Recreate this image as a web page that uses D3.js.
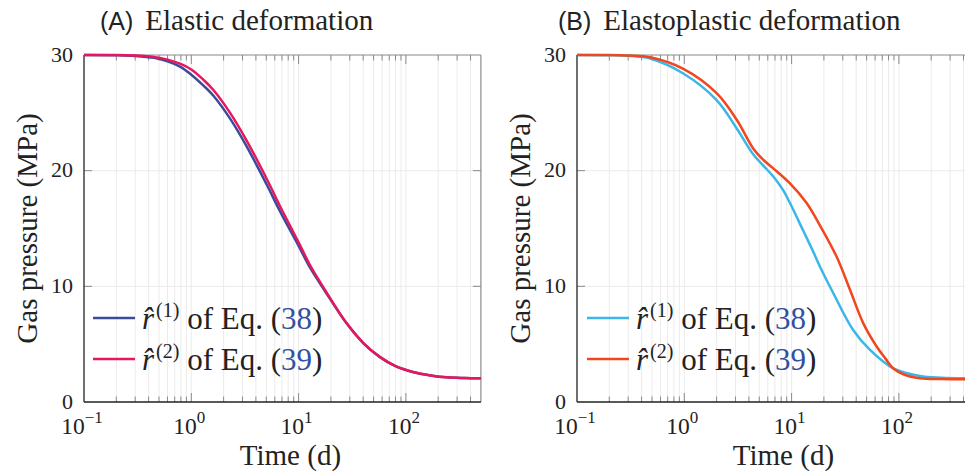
<!DOCTYPE html>
<html>
<head>
<meta charset="utf-8">
<script src="https://cdn.jsdelivr.net/npm/d3@7"></script>
<style>
  html, body { margin: 0; padding: 0; background: #fff; }
  svg { display: block; }
  .serif { font-family: "Liberation Serif", "Times New Roman", Times, Tinos, "DejaVu Serif", serif; }
  .sans { font-family: "Liberation Sans", Arial, Helvetica, sans-serif; }
</style>
</head>
<body>
<svg id="chart" width="965" height="475"></svg>
<script>
// ---------------- DATA ----------------
const panelTitles = ["Elastic deformation", "Elastoplastic deformation"];
const panelLetters = ["(A)", "(B)"];
const seriesNames = ["of Eq. (", "of Eq. ("];
const eqNumbers = ["38", "39"];
const yTickValues = [0, 10, 20, 30];
const xTickExponents = [-1, 0, 1, 2];
const xDomain = [0.1, 500];
const yDomain = [0, 30];

// (A) Elastic deformation
const timeA     = [0.1, 0.2, 0.3, 0.45, 0.6, 0.785, 1.0, 1.3, 1.6, 2.3, 3.28, 5.04, 6.7, 10, 13, 17.6, 28, 40, 57, 80, 116, 170, 240, 350, 500];
const elasticR1 = [30, 29.98, 29.92, 29.75, 29.45, 29.0, 28.3, 27.35, 26.5, 24.5, 22.1, 18.8, 16.5, 13.5, 11.5, 9.6, 6.8, 5.1, 3.9, 3.1, 2.6, 2.3, 2.13, 2.07, 2.05];
const elasticR2 = [30, 30, 29.95, 29.82, 29.6, 29.25, 28.75, 27.85, 27.0, 25.0, 22.6, 19.3, 16.95, 13.8, 11.7, 9.7, 6.82, 5.12, 3.9, 3.1, 2.6, 2.3, 2.13, 2.07, 2.05];

// (B) Elastoplastic deformation
const timeB1    = [0.1, 0.2, 0.3, 0.48, 0.98, 2.0, 3.08, 4.4, 5.5, 6.75, 8.37, 9.66, 12.85, 15.9, 18.4, 24.5, 37.6, 53.8, 88.8, 157, 250, 413, 500];
const plasticR1 = [30, 29.98, 29.93, 29.7, 28.4, 26.1, 23.65, 21.4, 20.4, 19.5, 18.3, 17.2, 14.8, 13.0, 11.7, 9.4, 6.2, 4.5, 2.9, 2.25, 2.1, 2.05, 2.05];
const timeB2    = [0.1, 0.2, 0.3, 0.48, 0.98, 2.0, 3.08, 4.4, 5.5, 6.75, 9.66, 13.8, 18.4, 26.3, 35, 46.6, 62, 75, 88.8, 110, 157, 250, 500];
const plasticR2 = [30, 30, 29.95, 29.8, 28.8, 26.7, 24.4, 21.9, 20.9, 20.2, 18.9, 17.2, 15.25, 12.55, 9.7, 6.8, 4.8, 3.75, 2.9, 2.4, 2.05, 1.98, 1.96];

const colorsA = ["#3a4b9c", "#e8175d"];
const colorsB = ["#3ab7e8", "#f0471e"];
const eqColor = "#3450a0";

// ---------------- LAYOUT ----------------
const svg = d3.select("#chart");
const plotTop = 55, plotBottom = 402;
const decade = 107.3;
const plotW = decade * Math.log10(xDomain[1] / xDomain[0]);

const panels = [
  { x0: 84, title: panelTitles[0], letter: panelLetters[0], times: [timeA, timeA], vals: [elasticR1, elasticR2], colors: colorsA, titleX: 100, ylabX: 27, legX: 93 },
  { x0: 577, title: panelTitles[1], letter: panelLetters[1], times: [timeB1, timeB2], vals: [plasticR1, plasticR2], colors: colorsB, titleX: 558, ylabX: 520, legX: 587 }
];

const defs = svg.append("defs");

panels.forEach((p, pi) => {
  const x = d3.scaleLog().domain(xDomain).range([p.x0, p.x0 + plotW]);
  const y = d3.scaleLinear().domain(yDomain).range([plotBottom, plotTop]);
  const g = svg.append("g");

  const minor = [];
  const major = [];
  xTickExponents.forEach(e => {
    const base = Math.pow(10, e);
    major.push(base);
    for (let k = 2; k <= 9; k++) {
      const v = k * base;
      if (v < xDomain[1]) minor.push(v);
    }
  });

  // vertical grid
  g.append("g").selectAll("line").data(minor.concat(major.slice(1)))
    .join("line")
    .attr("x1", d => x(d)).attr("x2", d => x(d))
    .attr("y1", plotTop).attr("y2", plotBottom)
    .attr("stroke", "#ebebeb").attr("stroke-width", 1);
  // horizontal grid
  g.append("g").selectAll("line").data([10, 20])
    .join("line")
    .attr("x1", x(xDomain[0])).attr("x2", x(xDomain[1]))
    .attr("y1", d => y(d)).attr("y2", d => y(d))
    .attr("stroke", "#ebebeb").attr("stroke-width", 1);

  // ticks (inward) top & bottom
  const tickData = minor.map(v => ({ v, len: 5.5 })).concat(major.slice(1).map(v => ({ v, len: 9 })));
  g.append("g").selectAll("line").data(tickData).join("line")
    .attr("x1", d => x(d.v)).attr("x2", d => x(d.v))
    .attr("y1", plotTop).attr("y2", d => plotTop + d.len)
    .attr("stroke", "#8a8a8a").attr("stroke-width", 1);
  g.append("g").selectAll("line").data(tickData).join("line")
    .attr("x1", d => x(d.v)).attr("x2", d => x(d.v))
    .attr("y1", plotBottom).attr("y2", d => plotBottom - d.len)
    .attr("stroke", "#8a8a8a").attr("stroke-width", 1);
  // y ticks left & right
  g.append("g").selectAll("line").data([10, 20]).join("line")
    .attr("x1", x(xDomain[0])).attr("x2", x(xDomain[0]) + 8)
    .attr("y1", d => y(d)).attr("y2", d => y(d))
    .attr("stroke", "#8a8a8a");
  g.append("g").selectAll("line").data([10, 20]).join("line")
    .attr("x1", x(xDomain[1])).attr("x2", x(xDomain[1]) - 8)
    .attr("y1", d => y(d)).attr("y2", d => y(d))
    .attr("stroke", "#8a8a8a");

  // frame
  g.append("line").attr("x1", x(xDomain[0])).attr("x2", x(xDomain[1])).attr("y1", plotTop).attr("y2", plotTop).attr("stroke", "#8a8a8a").attr("stroke-width", 1.2);
  g.append("line").attr("x1", x(xDomain[1])).attr("x2", x(xDomain[1])).attr("y1", plotTop).attr("y2", plotBottom).attr("stroke", "#8a8a8a").attr("stroke-width", 1.2);
  g.append("line").attr("x1", x(xDomain[0])).attr("x2", x(xDomain[0])).attr("y1", plotTop).attr("y2", plotBottom).attr("stroke", "#222").attr("stroke-width", 1.3);
  g.append("line").attr("x1", x(xDomain[0])).attr("x2", x(xDomain[1])).attr("y1", plotBottom).attr("y2", plotBottom).attr("stroke", "#222").attr("stroke-width", 1.3);

  // clip
  const cid = "clip" + pi;
  defs.append("clipPath").attr("id", cid).append("rect")
    .attr("x", x(xDomain[0])).attr("y", plotTop - 2).attr("width", plotW).attr("height", plotBottom - plotTop + 4);

  // curves
  const line = d3.line().x(d => x(d[0])).y(d => y(d[1])).curve(d3.curveCatmullRom.alpha(0.5));
  p.vals.forEach((vals, si) => {
    const pts = p.times[si].map((t, i) => [t, vals[i]]);
    g.append("path").datum(pts)
      .attr("d", line)
      .attr("fill", "none")
      .attr("stroke", p.colors[si])
      .attr("stroke-width", 2.5)
      .attr("clip-path", `url(#${cid})`);
  });

  // y tick labels
  g.append("g").selectAll("text").data(yTickValues).join("text")
    .attr("class", "serif")
    .attr("x", x(xDomain[0]) - 11).attr("y", d => y(d) + 6.5)
    .attr("text-anchor", "end")
    .attr("font-size", 22).attr("fill", "#222")
    .text(d => d);

  // x tick labels
  const xt = g.append("g").selectAll("text").data(xTickExponents).join("text")
    .attr("class", "serif")
    .attr("x", d => x(Math.pow(10, d)) - 2).attr("y", 434)
    .attr("text-anchor", "middle")
    .attr("font-size", 23.5).attr("fill", "#222");
  xt.append("tspan").text("10");
  xt.append("tspan").attr("dy", -11).attr("font-size", 17).text(d => d < 0 ? "\u2212" + Math.abs(d) : String(d));

  // axis labels
  g.append("text")
    .attr("class", "serif")
    .attr("x", x(Math.sqrt(xDomain[0] * xDomain[1])) + 8).attr("y", 465)
    .attr("text-anchor", "middle")
    .attr("font-size", 29).attr("fill", "#222")
    .text("Time (d)");
  g.append("text")
    .attr("class", "serif")
    .attr("transform", `translate(${p.ylabX},${(plotTop + plotBottom) / 2}) rotate(-90)`)
    .attr("text-anchor", "middle").attr("dominant-baseline", "central")
    .attr("font-size", 29).attr("fill", "#222")
    .text("Gas pressure (MPa)");

  // title
  const tt = g.append("text").attr("x", p.titleX).attr("y", 30)
    .attr("font-size", 29).attr("fill", "#222");
  tt.append("tspan").attr("class", "sans").attr("font-size", 25).text(p.letter);
  tt.append("tspan").attr("class", "serif").attr("dx", 12).text(p.title);

  // legend
  const legY = [318, 359];
  p.colors.forEach((c, si) => {
    g.append("line")
      .attr("x1", p.legX).attr("x2", p.legX + 42)
      .attr("y1", legY[si]).attr("y2", legY[si])
      .attr("stroke", c).attr("stroke-width", 2.5);
    const t = g.append("text").attr("class", "serif").attr("x", p.legX + 49).attr("y", legY[si] + 10.5)
      .attr("font-size", 31).attr("fill", "#222");
    t.append("tspan").attr("font-style", "italic").text("r\u0302");
    t.append("tspan").attr("dx", 2).attr("dy", -12).attr("font-size", 20).text("(" + (si + 1) + ")");
    t.append("tspan").attr("dy", 12).text(" " + seriesNames[si]);
    t.append("tspan").attr("fill", eqColor).text(eqNumbers[si]);
    t.append("tspan").text(")");
  });
});
</script>
</body>
</html>
